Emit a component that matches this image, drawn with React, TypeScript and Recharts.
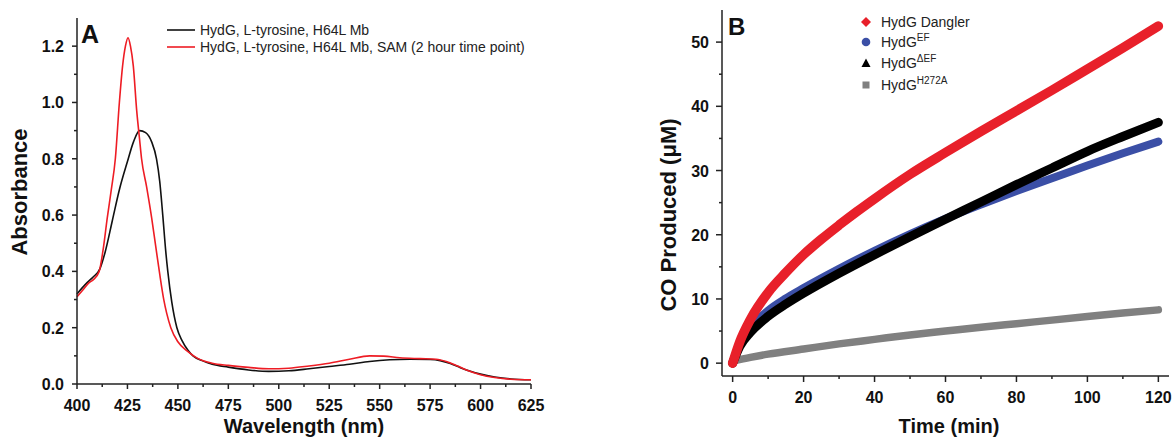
import React from 'react';
import { LineChart, Line, XAxis, YAxis } from 'recharts';

const FONT = 'Arial, "Liberation Sans", Helvetica, sans-serif';

// Panel A: absorbance spectra
const wlNoSam = [400, 405, 408, 411.4, 414, 417.5, 421, 425, 428, 431, 434, 437, 439.4, 441, 442.5, 444, 445, 447, 449.5, 452, 455, 457.5, 462, 467, 475, 485, 495, 505, 515, 525, 535, 545, 555, 565, 575, 580, 585, 590, 595, 600, 607, 615, 625];
const absNoSam = [0.32, 0.36, 0.38, 0.41, 0.47, 0.58, 0.69, 0.79, 0.86, 0.9, 0.893, 0.86, 0.8, 0.72, 0.6, 0.47, 0.4, 0.29, 0.2, 0.155, 0.12, 0.1, 0.083, 0.07, 0.06, 0.05, 0.045, 0.047, 0.054, 0.062, 0.07, 0.08, 0.086, 0.088, 0.087, 0.083, 0.073, 0.058, 0.045, 0.035, 0.025, 0.018, 0.015];
const wlSam = [400, 403, 406, 408, 411, 413, 415, 417, 419, 421, 422.6, 424, 425.3, 426.5, 427.9, 429.6, 431, 432, 434.5, 437, 439, 441, 443, 444.5, 446.5, 450, 455, 460, 467, 475, 485, 495, 505, 515, 525, 535, 545, 552, 560, 570, 578, 583, 588, 593, 600, 607, 615, 625];
const absSam = [0.31, 0.335, 0.36, 0.37, 0.4, 0.48, 0.59, 0.69, 0.8, 1.0, 1.13, 1.2, 1.23, 1.2, 1.13, 0.97, 0.87, 0.8, 0.7, 0.59, 0.49, 0.39, 0.3, 0.25, 0.2, 0.15, 0.115, 0.09, 0.074, 0.066, 0.059, 0.054, 0.056, 0.064, 0.074, 0.088, 0.1, 0.099, 0.093, 0.09, 0.088, 0.08, 0.066, 0.05, 0.033, 0.023, 0.017, 0.015];

const xTicksA = [400, 412.5, 425, 437.5, 450, 462.5, 475, 487.5, 500, 512.5, 525, 537.5, 550, 562.5, 575, 587.5, 600, 612.5, 625];
const xMajorA = [400, 425, 450, 475, 500, 525, 550, 575, 600, 625];
const yTicksA = [0, 0.1, 0.2, 0.3, 0.4, 0.5, 0.6, 0.7, 0.8, 0.9, 1.0, 1.1, 1.2];
const yMajorA = [0, 0.2, 0.4, 0.6, 0.8, 1.0, 1.2];

// Panel B: CO production over time
const tDangler = [0, 2, 5, 10, 15, 20, 25, 30, 35, 40, 50, 60, 70, 80, 90, 100, 110, 120];
const coDangler = [0, 3.3, 6.8, 11, 14.1, 16.9, 19.3, 21.5, 23.6, 25.6, 29.4, 32.8, 36.1, 39.3, 42.5, 45.8, 49.1, 52.5];
const tEF = [0, 2, 5, 10, 15, 20, 30, 40, 50, 60, 70, 80, 90, 100, 110, 120];
const coEF = [0, 2.9, 5.5, 8.2, 10.1, 11.7, 14.7, 17.5, 20.1, 22.5, 24.7, 26.8, 28.8, 30.8, 32.7, 34.5];
const tDeltaEF = [0, 2, 5, 10, 15, 20, 30, 40, 50, 60, 70, 80, 90, 100, 110, 120];
const coDeltaEF = [0, 2.6, 4.8, 7.3, 9.2, 10.9, 14.0, 16.9, 19.7, 22.4, 25.1, 27.8, 30.4, 33, 35.3, 37.5];
const tH272A = [0, 5, 10, 20, 30, 40, 50, 60, 70, 80, 90, 100, 110, 120];
const coH272A = [0.3, 0.9, 1.4, 2.2, 3.0, 3.7, 4.4, 5.0, 5.6, 6.15, 6.7, 7.25, 7.8, 8.3];

const xTicksB = [0, 10, 20, 30, 40, 50, 60, 70, 80, 90, 100, 110, 120];
const xMajorB = [0, 20, 40, 60, 80, 100, 120];
const yTicksB = [0, 5, 10, 15, 20, 25, 30, 35, 40, 45, 50];
const yMajorB = [0, 10, 20, 30, 40, 50];

const zip = (xs: number[], ys: number[]) => xs.map((x, i) => ({ x, y: ys[i] }));

const AXIS = '#222';

function makeTick(side: 'left' | 'bottom', majors: number[], fmt: (v: number) => string, majorLen: number) {
  return (props: any) => {
    const { x, y, payload } = props;
    const v = payload.value as number;
    const isMajor = majors.some((m) => Math.abs(m - v) < 1e-6);
    const len = isMajor ? majorLen : 3;
    if (side === 'bottom') {
      return (
        <g>
          <line x1={x} y1={y} x2={x} y2={y + len} stroke={AXIS} strokeWidth={1.5} />
          {isMajor && (
            <text x={x} y={y + 27} textAnchor="middle" fontFamily={FONT} fontSize={16} fontWeight="bold" fill="#111">
              {fmt(v)}
            </text>
          )}
        </g>
      );
    }
    return (
      <g>
        <line x1={x} y1={y} x2={x - len} y2={y} stroke={AXIS} strokeWidth={1.5} />
        {isMajor && (
          <text x={x - 13} y={y + 6} textAnchor="end" fontFamily={FONT} fontSize={16} fontWeight="bold" fill="#111">
            {fmt(v)}
          </text>
        )}
      </g>
    );
  };
}

const titleStyle = { fontFamily: FONT, fontSize: 20, fontWeight: 700, fill: '#111' };
const yTitleStyle = { ...titleStyle, fontSize: 22 };
const legendA = { fontFamily: FONT, fontSize: 14, fill: '#222' };
const legendB = { fontFamily: FONT, fontSize: 14, fill: '#222' };

export default function App() {
  return (
    <div style={{ position: 'absolute', left: 0, top: 0, width: 1176, height: 439, background: '#fff' }}>
      <div style={{ position: 'absolute', left: 0, top: 0 }}>
        <LineChart width={590} height={439} margin={{ top: 18, right: 59, bottom: 0, left: 0 }}>
          <XAxis
            type="number"
            dataKey="x"
            domain={[400, 625]}
            ticks={xTicksA}
            interval={0}
            height={55}
            tickSize={0}
            tickMargin={0}
            tickLine={false}
            axisLine={{ stroke: AXIS, strokeWidth: 1.5 }}
            tick={makeTick('bottom', xMajorA, (v) => String(v), 5)}
          />
          <YAxis
            type="number"
            domain={[0, 1.3]}
            ticks={yTicksA}
            interval={0}
            width={77}
            tickSize={0}
            tickMargin={0}
            tickLine={false}
            axisLine={{ stroke: AXIS, strokeWidth: 1.5 }}
            tick={makeTick('left', yMajorA, (v) => v.toFixed(1), 5)}
          />
          <Line data={zip(wlNoSam, absNoSam)} dataKey="y" type="monotone" stroke="#111" strokeWidth={1.6} dot={false} isAnimationActive={false} />
          <Line data={zip(wlSam, absSam)} dataKey="y" type="monotone" stroke="#ee1c24" strokeWidth={1.6} dot={false} isAnimationActive={false} />
        </LineChart>
      </div>

      <div style={{ position: 'absolute', left: 600, top: 0 }}>
        <LineChart width={576} height={439} margin={{ top: 10, right: 7, bottom: 0, left: 0 }}>
          <XAxis
            type="number"
            dataKey="x"
            domain={[-3, 123]}
            ticks={xTicksB}
            interval={0}
            height={63}
            tickSize={0}
            tickMargin={0}
            tickLine={false}
            axisLine={{ stroke: AXIS, strokeWidth: 1.5 }}
            tick={makeTick('bottom', xMajorB, (v) => String(v), 6)}
          />
          <YAxis
            type="number"
            domain={[-2, 55]}
            ticks={yTicksB}
            interval={0}
            width={122}
            tickSize={0}
            tickMargin={0}
            tickLine={false}
            axisLine={{ stroke: AXIS, strokeWidth: 1.5 }}
            tick={makeTick('left', yMajorB, (v) => String(v), 6)}
          />
          <Line data={zip(tH272A, coH272A)} dataKey="y" type="monotone" stroke="#808080" strokeWidth={7.5} strokeLinecap="round" dot={false} isAnimationActive={false} />
          <Line data={zip(tEF, coEF)} dataKey="y" type="monotone" stroke="#3b4fa6" strokeWidth={8} strokeLinecap="round" dot={false} isAnimationActive={false} />
          <Line data={zip(tDeltaEF, coDeltaEF)} dataKey="y" type="monotone" stroke="#000" strokeWidth={9} strokeLinecap="round" dot={false} isAnimationActive={false} />
          <Line data={zip(tDangler, coDangler)} dataKey="y" type="monotone" stroke="#e8202a" strokeWidth={9.5} strokeLinecap="round" dot={false} isAnimationActive={false} />
        </LineChart>
      </div>

      <svg width={1176} height={439} style={{ position: 'absolute', left: 0, top: 0, pointerEvents: 'none' }}>
        {/* panel letters */}
        <text x={81} y={43} style={{ fontFamily: FONT, fontSize: 25, fontWeight: 700, fill: '#111' }}>A</text>
        <text x={728} y={35} style={{ fontFamily: FONT, fontSize: 24, fontWeight: 700, fill: '#111' }}>B</text>

        {/* axis titles */}
        <text x={304} y={433} textAnchor="middle" style={titleStyle}>Wavelength (nm)</text>
        <text transform="translate(27,192) rotate(-90)" textAnchor="middle" style={yTitleStyle}>Absorbance</text>
        <text x={949} y={433} textAnchor="middle" style={titleStyle}>Time (min)</text>
        <text transform="translate(676,215) rotate(-90)" textAnchor="middle" style={yTitleStyle}>CO Produced (μM)</text>

        {/* legend A */}
        <line x1={167} y1={30} x2={195} y2={30} stroke="#111" strokeWidth={1.6} />
        <text x={200} y={35} style={legendA}>HydG, L-tyrosine, H64L Mb</text>
        <line x1={167} y1={47} x2={195} y2={47} stroke="#ee1c24" strokeWidth={1.6} />
        <text x={200} y={52} style={legendA}>HydG, L-tyrosine, H64L Mb, SAM (2 hour time point)</text>

        {/* legend B */}
        <polygon points="866,17 871,22 866,27 861,22" fill="#e8202a" />
        <text x={881} y={27} style={legendB}>HydG Dangler</text>
        <circle cx={866} cy={42} r={4.3} fill="#3b4fa6" />
        <text x={881} y={47} style={legendB}>
          HydG<tspan dy={-6} fontSize={10}>EF</tspan>
        </text>
        <polygon points="866,58.5 870.5,67 861.5,67" fill="#000" />
        <text x={881} y={68} style={legendB}>
          HydG<tspan dy={-6} fontSize={10}>ΔEF</tspan>
        </text>
        <rect x={862.5} y={81.5} width={7} height={7} fill="#808080" />
        <text x={881} y={90} style={legendB}>
          HydG<tspan dy={-6} fontSize={10}>H272A</tspan>
        </text>
      </svg>
    </div>
  );
}
